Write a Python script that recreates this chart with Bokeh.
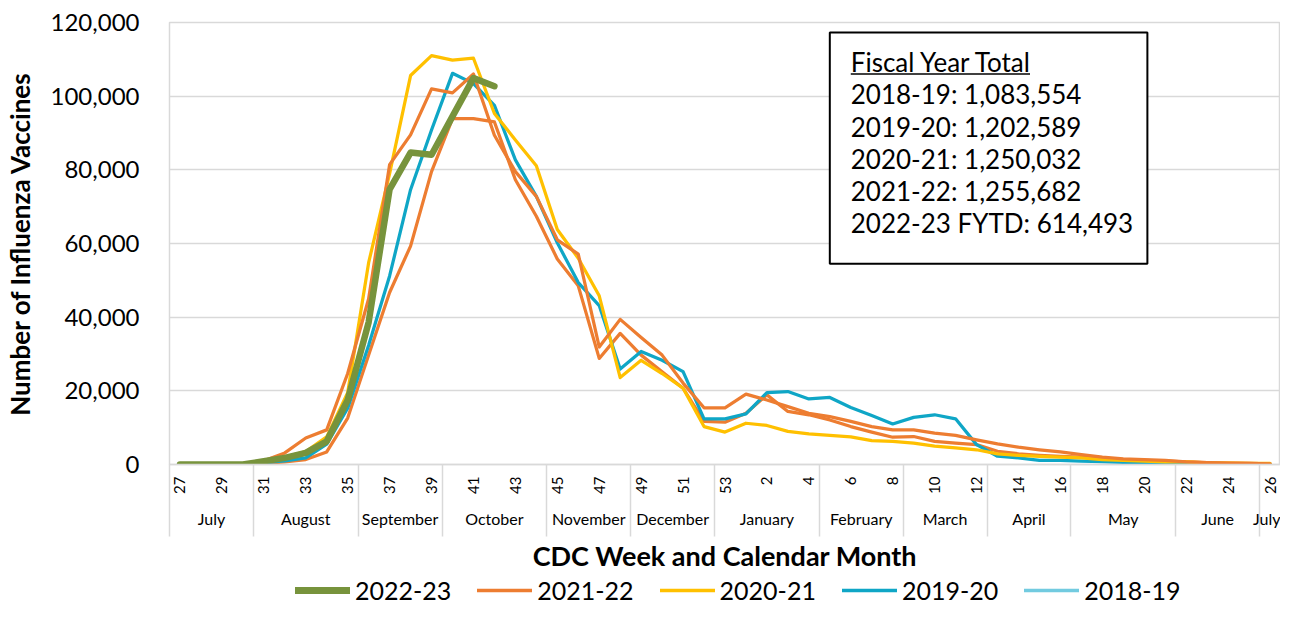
import numpy as np
from bokeh.plotting import figure
from bokeh.layouts import column
from bokeh.models import (Range1d, FixedTicker, LinearAxis, NumeralTickFormatter,
                          Legend, LegendItem, BoxAnnotation, Label)
from bokeh.embed import file_html
from bokeh.resources import INLINE

# ---------------- data ----------------
weeks = list(range(27, 54)) + list(range(1, 27))
months = ["July", "August", "September", "October", "November", "December",
          "January", "February", "March", "April", "May", "June", "July"]
month_weeks = [4, 5, 4, 5, 4, 4, 5, 4, 4, 4, 5, 4, 1]

s2022_23 = [0, 0, 0, 0, 900, 1800, 3150, 6300, 17500, 38600, 74700, 84700, 84100,
            94500, 104900, 102700]
s2021_22 = [0, 0, 0, 200, 1000, 3150, 7200, 9400, 24700, 45000, 81400, 89500, 102000,
            100900, 106000, 89400, 79500, 72800, 61000, 57100, 31900, 39400, 34500,
            29700, 22100, 15400, 15400,
            19100, 17500, 15700, 13900, 13000, 11700, 10300, 9400, 9400, 8500, 7900,
            6700, 5600, 4700, 4000, 3400, 2700, 2000, 1500, 1350, 1100, 700, 500, 400,
            300, 200]
s2020_21 = [0, 0, 0, 100, 800, 2000, 3500, 7500, 19500, 54800, 79000, 105600, 111000,
            109800, 110300, 95300, 88100, 81100, 63800, 56000, 45800, 23600, 28300,
            24700, 20700, 10300, 8800,
            11200, 10600, 9000, 8300, 7900, 7500, 6500, 6300, 5800, 5000, 4500, 4000,
            2900, 2500, 2200, 2000, 1800, 1350, 1100, 900, 700, 700, 450, 400, 300, 300]
s2019_20 = [0, 0, 0, 0, 500, 1000, 1800, 5500, 15300, 32400, 51200, 74600, 90800,
            106200, 103400, 97500, 82700, 72800, 60200, 49400, 43150, 25900, 30700,
            28300, 25200, 12400, 12400,
            13750, 19500, 19800, 17800, 18200, 15500, 13300, 11000, 12800, 13500, 12400,
            5400, 2250, 1800, 1100, 1100, 900, 800, 550, 500, 400, 300, 300, 250, 200, 200]
s2018_19 = [0, 0, 0, 0, 300, 700, 1350, 3400, 12600, 29700, 46700, 59300, 79500,
            93900, 93900, 93000, 77300, 67400, 55800, 48500, 28800, 35600, 29700,
            25200, 20700, 11700, 11500,
            13900, 18900, 14400, 13500, 12100, 10300, 8800, 7400, 7600, 6300, 5800,
            5400, 3600, 2900, 2500, 2200, 2000, 1600, 1300, 1100, 900, 700, 500, 400,
            300, 200]

series_names = ["2022-23", "2021-22", "2020-21", "2019-20", "2018-19"]
fiscal_years = ["2018-19", "2019-20", "2020-21", "2021-22", "2022-23 FYTD"]
fiscal_totals = [1083554, 1202589, 1250032, 1255682, 614493]

y_ticks = [0, 20000, 40000, 60000, 80000, 100000, 120000]

# ---------------- style ----------------
FONT = "Lato"
GREEN = "#77933C"
ORANGE = "#ED7D31"
YELLOW = "#FFC000"
BLUE = "#0FA6C6"
LIGHTBLUE = "#72CBE0"
GRID = "#D9D9D9"
TXT = "#000000"

n = len(weeks)
x_all = list(range(n))

p = figure(width=1280, height=574,
           x_range=Range1d(-0.5, n - 0.5), y_range=Range1d(0, 120000),
           output_backend="svg", toolbar_location=None, x_axis_location=None,
           min_border_left=164, min_border_right=0, min_border_top=22,
           min_border_bottom=0)
p.outline_line_color = GRID
p.outline_line_width = 1.5
p.xgrid.visible = False
p.ygrid.grid_line_color = GRID
p.ygrid.grid_line_width = 1.5

yax = p.yaxis[0]
yax.ticker = FixedTicker(ticks=y_ticks)
yax.formatter = NumeralTickFormatter(format="0,0")
yax.axis_line_color = None
yax.major_tick_line_color = None
yax.minor_tick_line_color = None
yax.major_tick_out = 0
yax.major_label_standoff = 30
yax.major_label_text_font = FONT
yax.major_label_text_font_size = "24px"
yax.major_label_text_color = TXT
yax.axis_label = "Number of Influenza Vaccines"
yax.axis_label_text_font = FONT
yax.axis_label_text_font_style = "bold"
yax.axis_label_text_font_size = "26px"
yax.axis_label_text_color = TXT
yax.axis_label_standoff = 12

# ---- lines ----
common = dict(line_width=3.25, line_join="round", line_cap="round")
p.line(x_all, s2018_19, line_color=ORANGE, **common)
p.line(x_all, s2019_20, line_color=BLUE, **common)
p.line(x_all, s2020_21, line_color=YELLOW, **common)
p.line(x_all, s2021_22, line_color=ORANGE, **common)
p.line(x_all[:len(s2022_23)], s2022_23, line_color=GREEN, line_width=6.5,
       line_join="round", line_cap="round")

# ---- multi-level category axis ----
bounds = [0]
for m in month_weeks:
    bounds.append(bounds[-1] + m)
sep_x = [b - 0.5 for b in bounds[:-1]]
sep_x[0] = -0.499
month_centers = [(bounds[i] + bounds[i + 1]) / 2 - 0.5 for i in range(len(months))]
wk_ticks = list(range(0, n, 2))

SEP_LEN = 72
ax1 = LinearAxis(ticker=FixedTicker(ticks=wk_ticks, minor_ticks=sep_x),
                 major_label_overrides={float(i): str(weeks[i]) for i in wk_ticks})
ax1.major_label_orientation = np.pi / 2
ax1.axis_line_color = GRID
ax1.axis_line_width = 1.5
ax1.major_tick_line_color = None
ax1.major_tick_in = 0
ax1.major_tick_out = 0
ax1.minor_tick_line_color = GRID
ax1.minor_tick_line_width = 1.5
ax1.minor_tick_in = 0
ax1.minor_tick_out = SEP_LEN
ax1.major_label_standoff = 12 - SEP_LEN
ax1.major_label_text_font = FONT
ax1.major_label_text_font_size = "15px"
ax1.major_label_text_color = TXT

ax2 = LinearAxis(ticker=FixedTicker(ticks=month_centers, minor_ticks=[]),
                 major_label_overrides={float(c): m for c, m in zip(month_centers, months)})
ax2.axis_line_color = None
ax2.major_tick_line_color = None
ax2.minor_tick_line_color = None
ax2.major_tick_in = 0
ax2.major_tick_out = 0
ax2.minor_tick_in = 0
ax2.minor_tick_out = 0
ax2.major_label_standoff = 12
ax2.major_label_text_font = FONT
ax2.major_label_text_font_size = "16px"
ax2.major_label_text_color = TXT
ax2.axis_label = "CDC Week and Calendar Month"
ax2.axis_label_text_font = FONT
ax2.axis_label_text_font_style = "bold"
ax2.axis_label_text_font_size = "27px"
ax2.axis_label_text_color = TXT
ax2.axis_label_standoff = 8

p.add_layout(ax1, "below")
p.add_layout(ax2, "below")

# ---- fiscal year total box ----
box = BoxAnnotation(left=31.0, right=46.15, top=117300, bottom=54500,
                    fill_color="white", fill_alpha=1.0,
                    line_color="black", line_alpha=1.0, line_width=2)
p.add_layout(box)

text_x = 32.0
line_y0 = 109200
line_step = 8720
p.add_layout(Label(x=text_x, y=line_y0, text="Fiscal Year Total",
                   text_font=FONT, text_font_size="26px", text_color=TXT,
                   text_baseline="middle"))
p.add_layout(BoxAnnotation(left=text_x, right=40.55, top=106200,
                           bottom=105800, fill_color="black",
                           fill_alpha=1.0, line_color=None))
for k, (fy, tot) in enumerate(zip(fiscal_years, fiscal_totals)):
    p.add_layout(Label(x=text_x, y=line_y0 - (k + 1) * line_step,
                       text=f"{fy}: {tot:,}",
                       text_font=FONT, text_font_size="26px", text_color=TXT,
                       text_baseline="middle"))

# ---------------- legend strip ----------------
lg = figure(width=1280, height=31, x_range=Range1d(0, 1), y_range=Range1d(0, 1),
            output_backend="svg", toolbar_location=None,
            x_axis_location=None, y_axis_location=None,
            min_border=0, outline_line_color=None)
lg.grid.visible = False
key_colors = [GREEN, ORANGE, YELLOW, BLUE, LIGHTBLUE]
key_widths = [7, 3.5, 3.5, 3.5, 3.5]
items = []
for name, c, w in zip(series_names, key_colors, key_widths):
    r = lg.line([0, 1], [np.nan, np.nan], line_color=c, line_width=w, line_cap="round")
    items.append(LegendItem(label=name, renderers=[r]))
legend = Legend(items=items, orientation="horizontal", location=(126, 0))
legend.border_line_color = None
legend.background_fill_alpha = 0
legend.label_text_font = FONT
legend.label_text_font_size = "25px"
legend.label_text_color = TXT
legend.glyph_width = 55
legend.glyph_height = 22
legend.label_standoff = 5
legend.spacing = 26
legend.padding = 0
legend.margin = 0
lg.add_layout(legend, "center")

open("out.html", "w").write(file_html(column(p, lg), INLINE))
